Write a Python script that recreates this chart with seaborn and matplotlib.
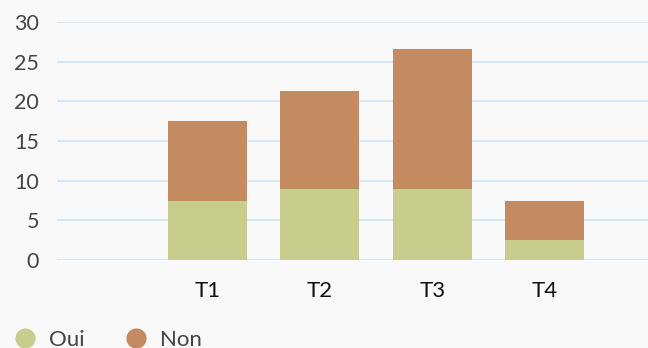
import matplotlib
matplotlib.use("Agg")
import matplotlib.pyplot as plt
from matplotlib.lines import Line2D
import seaborn as sns
import pandas as pd

categories = ["T1", "T2", "T3", "T4"]
oui = [7.5, 9.0, 9.0, 2.5]
non = [10.0, 12.25, 17.65, 4.9]
series_labels = ["Oui", "Non"]
y_ticks = [0, 5, 10, 15, 20, 25, 30]

col_oui = "#c7cd8d"
col_non = "#c48a62"
bg = "#f9f9f9"

sns.set_theme(style="white")
plt.rcParams["font.family"] = ["Lato", "DejaVu Sans"]

df = pd.DataFrame({"cat": categories, "Oui": oui, "Non": non})
df["Total"] = df["Oui"] + df["Non"]

fig = plt.figure(figsize=(6.48, 3.48), dpi=100, facecolor=bg)
ax = fig.add_axes([57 / 648, 1 - 260 / 348, 1 - 57 / 648, (260 - 22) / 348])
ax.set_facecolor(bg)

sns.barplot(data=df, x="cat", y="Total", color=col_non, width=0.7, ax=ax,
            saturation=1, edgecolor="none", linewidth=0, zorder=3)
sns.barplot(data=df, x="cat", y="Oui", color=col_oui, width=0.7, ax=ax,
            saturation=1, edgecolor="none", linewidth=0, zorder=4)

ax.set_xlim(-1.338, 3.92)
ax.set_ylim(0, 30)
ax.set_yticks(y_ticks)
ax.set_yticklabels([str(t) for t in y_ticks])
ax.yaxis.grid(True, color="#cfe6f7", linewidth=1.3, zorder=0)
ax.set_axisbelow(True)
ax.set_xlabel("")
ax.set_ylabel("")
for s in ax.spines.values():
    s.set_visible(False)
ax.tick_params(axis="y", length=0, pad=13, labelsize=15.5, labelcolor="#444444")
ax.tick_params(axis="x", length=0, pad=15, labelsize=16, labelcolor="#111111")

handles = [Line2D([], [], marker="o", linestyle="none", markersize=14.5,
                  markerfacecolor=c, markeredgecolor="none")
           for c in (col_oui, col_non)]
fig.legend(handles, series_labels, loc="center left",
           bbox_to_anchor=(13.5 / 648, 1 - 340 / 348), ncol=2, frameon=False,
           fontsize=16, labelcolor="#444444", handlelength=1.0,
           handletextpad=0.6, columnspacing=1.8, borderaxespad=0, borderpad=0)

fig.savefig("out.png", dpi=100, facecolor=bg)
